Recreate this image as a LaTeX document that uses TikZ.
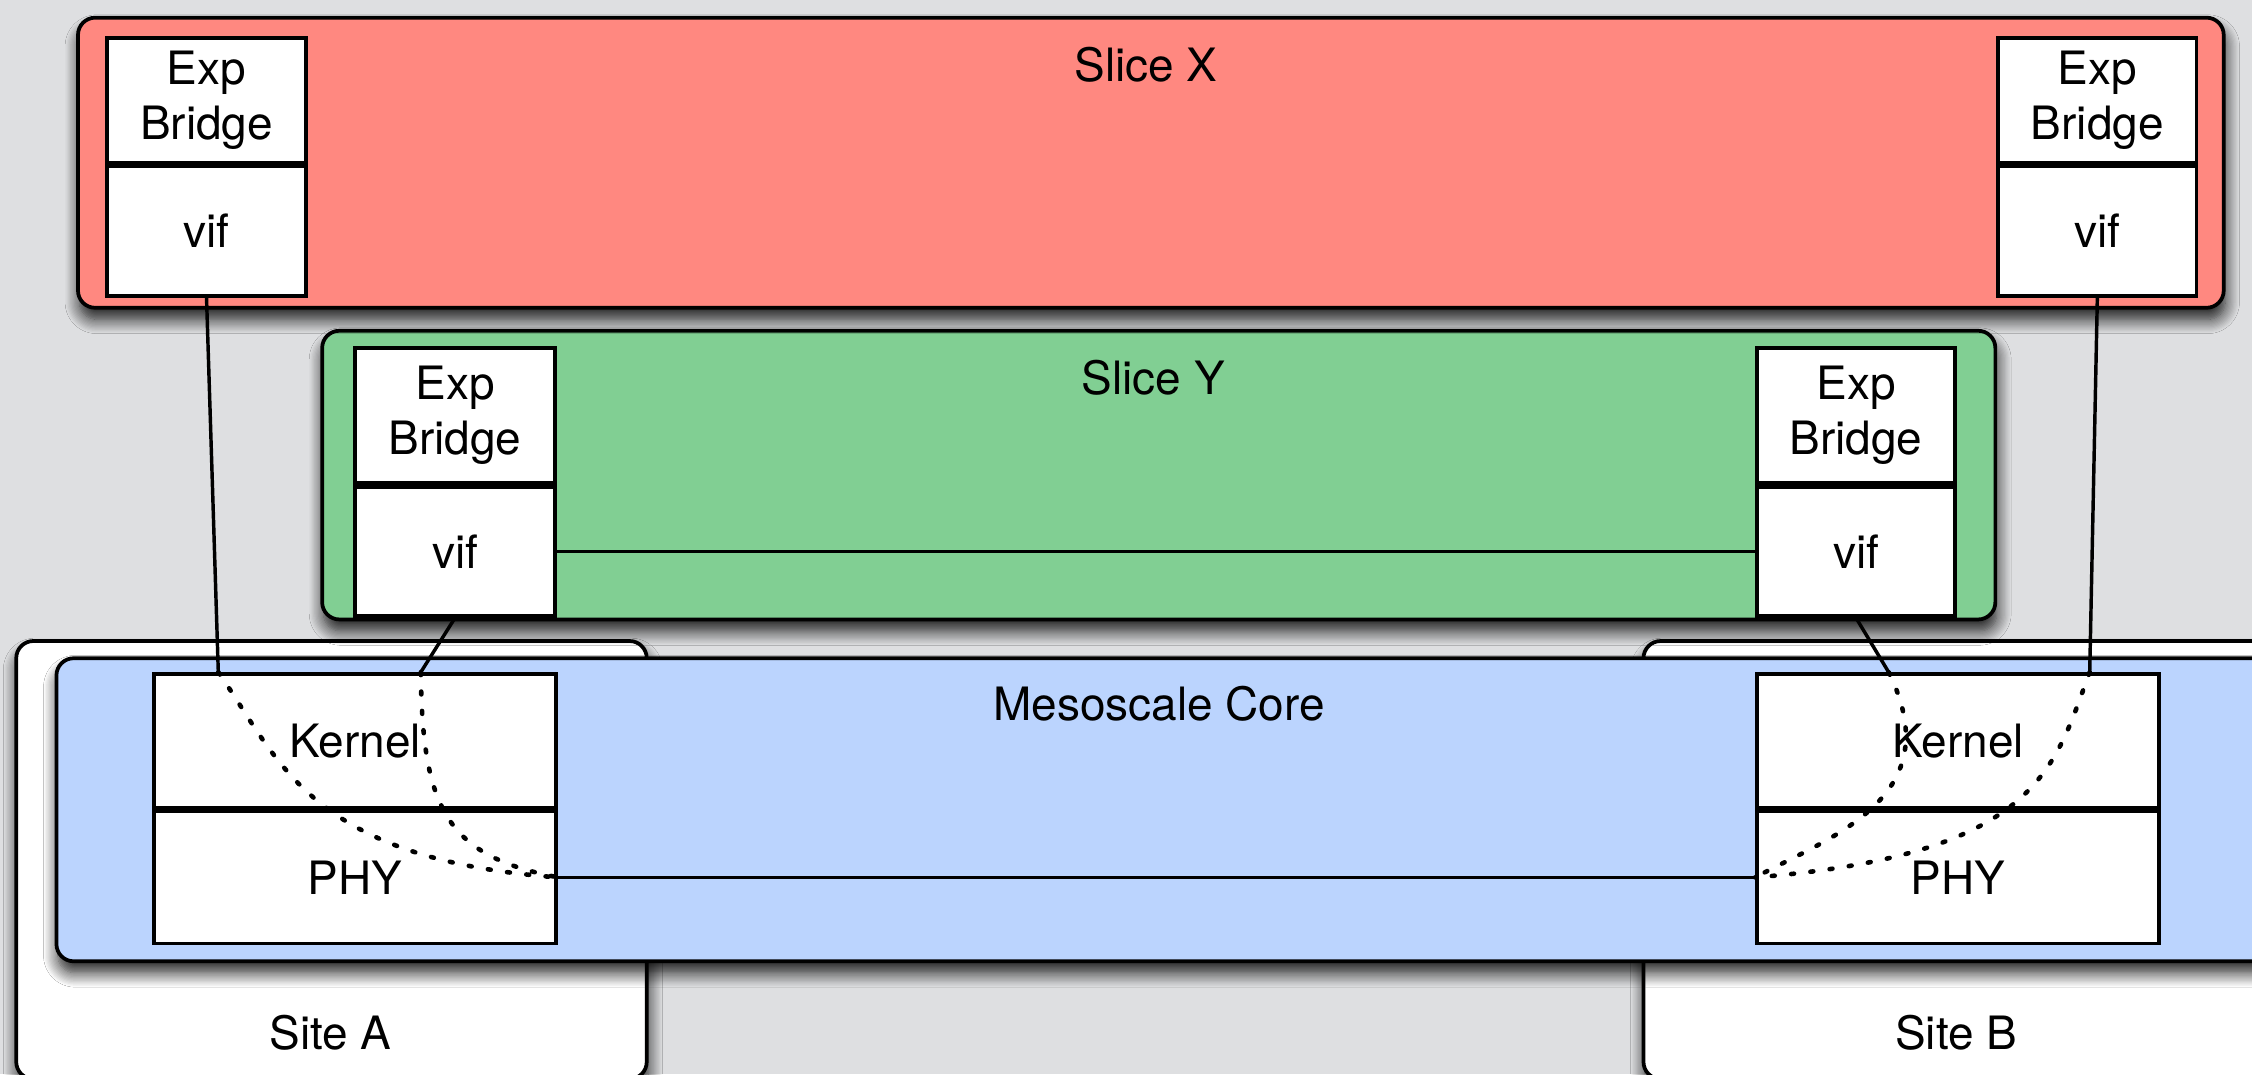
\documentclass[tikz,border=0pt]{standalone}
\usepackage{fontspec}
\setmainfont{TeX Gyre Heros}
\usetikzlibrary{shadows.blur}

\definecolor{bgGrey}{RGB}{222,223,225}
\definecolor{sliceRed}{RGB}{255,136,128}
\definecolor{sliceGreen}{RGB}{129,207,147}
\definecolor{coreBlue}{RGB}{187,212,254}

\tikzset{
  every node/.style={font=\fontsize{32}{38}\selectfont},
  container/.style={draw=black, line width=2.6pt, rounded corners=12pt,
    inner sep=0pt, anchor=north west,
    blur shadow={shadow xshift=1pt, shadow yshift=-8pt,
      shadow blur radius=10pt, shadow blur steps=12, shadow opacity=90}},
  cell/.style={draw=black, fill=white, line width=2.6pt, inner sep=0pt, align=center},
  link/.style={line width=2.4pt},
  dotlink/.style={line width=3.2pt, line cap=round, dash pattern=on 2pt off 11.5pt},
  caption/.style={inner sep=0pt},
}

\begin{document}
\begin{tikzpicture}[x=1pt, y=-1pt]
  \useasboundingbox (0,0) rectangle (1568,748);
  \clip (0,0) rectangle (1568,748);
  \fill[bgGrey] (0,0) rectangle (1568,748);

  % sites
  \node[container, fill=white, minimum width=439pt, minimum height=305pt] (siteA) at (10,445) {};
  \node[container, fill=white, minimum width=450pt, minimum height=305pt] (siteB) at (1143,445) {};
  \node[caption] (siteAlbl) at (230,719) {Site A};
  \node[caption] (siteBlbl) at (1362,719) {Site B};

  % mesoscale core
  \node[container, fill=coreBlue, minimum width=1560pt, minimum height=211pt] (core) at (38,457) {};
  \node[caption] (corelbl) at (807,490) {Mesoscale Core};

  % kernel / PHY stacks
  \node[cell, minimum width=280pt, minimum height=93pt, anchor=north west] (ka) at (106,468) {Kernel};
  \node[cell, minimum width=280pt, minimum height=92pt, anchor=north] (pa) at (ka.south) {PHY};
  \node[cell, minimum width=280pt, minimum height=93pt, anchor=north west] (kb) at (1222,468) {Kernel};
  \node[cell, minimum width=280pt, minimum height=92pt, anchor=north] (pb) at (kb.south) {PHY};

  % slice Y
  \node[container, fill=sliceGreen, minimum width=1165pt, minimum height=201pt] (slicey) at (223,229) {};
  \node[caption] (ylbl) at (803,263) {Slice Y};
  \node[cell, minimum width=139pt, minimum height=94pt, anchor=north west] (byl) at (246,241) {Exp\\Bridge};
  \node[cell, minimum width=139pt, minimum height=90pt, anchor=north] (vyl) at (byl.south) {vif};
  \node[cell, minimum width=138pt, minimum height=94pt, anchor=north west] (byr) at (1222,241) {Exp\\Bridge};
  \node[cell, minimum width=138pt, minimum height=90pt, anchor=north] (vyr) at (byr.south) {vif};

  % slice X
  \node[container, fill=sliceRed, minimum width=1494pt, minimum height=202pt] (slicex) at (53,11) {};
  \node[caption] (xlbl) at (798,45) {Slice X};
  \node[cell, minimum width=139pt, minimum height=87pt, anchor=north west] (bxl) at (73,25) {Exp\\Bridge};
  \node[cell, minimum width=139pt, minimum height=90pt, anchor=north] (vxl) at (bxl.south) {vif};
  \node[cell, minimum width=138pt, minimum height=87pt, anchor=north west] (bxr) at (1390,25) {Exp\\Bridge};
  \node[cell, minimum width=138pt, minimum height=90pt, anchor=north] (vxr) at (bxr.south) {vif};

  % entry points on the kernel tops
  \coordinate (kaOut) at (152,468);
  \coordinate (kaIn)  at (293,468);
  \coordinate (kbIn)  at (1315,468);
  \coordinate (kbOut) at (1455,468);

  % solid links
  \draw[link] (vxl.south) -- (kaOut);
  \draw[link] (vyl.south) -- (kaIn);
  \draw[link] (vyr.south) -- (kbIn);
  \draw[link] (vxr.south) -- (kbOut);
  \draw[link] (vyl.east) -- (vyr.west);
  \draw[link] (pa.east) -- (pb.west);

  % paths through the kernel down to the PHY
  \draw[dotlink] (kaOut) .. controls (195,530) and (215,598) .. (pa.east);
  \draw[dotlink] (kaIn) .. controls (294,565) and (312,596) .. (pa.east);
  \draw[dotlink] (kbIn) .. controls (1358,555) and (1276,582) .. (pb.west);
  \draw[dotlink] (kbOut) .. controls (1430,535) and (1420,595) .. (pb.west);
\end{tikzpicture}
\end{document}
